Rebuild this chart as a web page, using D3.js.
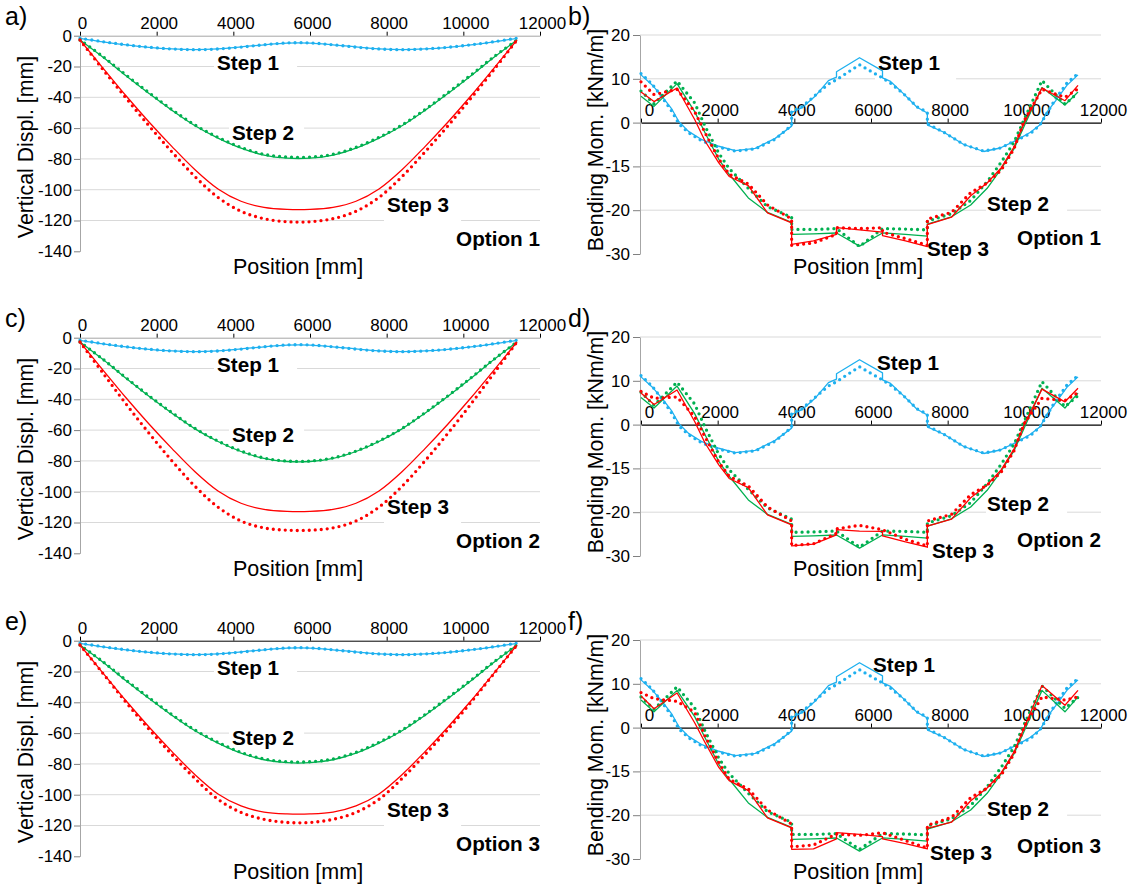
<!DOCTYPE html>
<html>
<head>
<meta charset="utf-8">
<script src="https://cdn.jsdelivr.net/npm/d3@7"></script>
<style>
  body { margin: 0; background: #fff; }
  svg text { font-family: "Liberation Sans", Arial, sans-serif; }
</style>
</head>
<body>
<svg id="chart" width="1128" height="884"></svg>
<script>
// ---------- axis ticks ----------
const xTicks = [0, 2000, 4000, 6000, 8000, 10000, 12000];
const dispTicks = [0, -20, -40, -60, -80, -100, -120, -140];
const momTicks = [20, 10, 0, -10, -20, -30];
const momTickLabels = ["20", "10", "0", "-15", "-20", "-30"];

// ---------- vertical displacement [mm] ----------
const dispX = [0, 600, 1200, 1800, 2400, 3000, 3600, 4200, 4800, 5400, 6000, 6600, 7200, 7800, 8400, 9000, 9600, 10200, 10800, 11400];

const dispBlueS = [-1.7, -4.0, -6.0, -7.6, -8.6, -9.0, -8.5, -7.3, -5.9, -4.8, -4.8, -5.9, -7.3, -8.5, -9.0, -8.6, -7.6, -6.0, -4.0, -1.7];
const dispBlueD = [-1.6, -3.9, -5.9, -7.5, -8.6, -9.1, -8.6, -7.4, -5.9, -4.7, -4.7, -5.9, -7.4, -8.6, -9.1, -8.6, -7.5, -5.9, -3.9, -1.6];

const dispGreen1S = [-2.8, -14.0, -26.0, -37.5, -48.5, -58.5, -66.5, -73.0, -77.5, -79.5, -79.5, -77.5, -73.0, -66.5, -58.5, -48.5, -37.5, -26.0, -14.0, -2.8];
const dispGreen1D = [-2.8, -13.6, -25.5, -37.0, -48.0, -58.0, -66.0, -72.5, -77.0, -78.8, -78.8, -77.0, -72.5, -66.0, -58.0, -48.0, -37.0, -25.5, -13.6, -2.8];
const dispRed1S = [-2.8, -21.0, -39.0, -56.0, -72.0, -87.0, -99.5, -107.5, -111.5, -112.8, -112.8, -111.5, -107.5, -99.5, -87.0, -72.0, -56.0, -39.0, -21.0, -2.8];
const dispRed1D = [-2.8, -22.0, -40.5, -58.5, -75.5, -91.5, -105.0, -114.0, -118.8, -120.8, -120.8, -118.8, -114.0, -105.0, -91.5, -75.5, -58.5, -40.5, -22.0, -2.8];

const dispGreen2S = [-2.8, -14.2, -26.3, -38.0, -49.0, -59.2, -67.4, -73.9, -78.4, -80.4, -80.4, -78.4, -73.9, -67.4, -59.2, -49.0, -38.0, -26.3, -14.2, -2.8];
const dispGreen2D = [-2.8, -14.0, -26.0, -37.7, -48.7, -58.9, -67.1, -73.6, -78.1, -80.1, -80.1, -78.1, -73.6, -67.1, -58.9, -48.7, -37.7, -26.0, -14.0, -2.8];
const dispRed2S = [-2.8, -21.0, -39.0, -56.0, -72.0, -87.0, -99.5, -107.5, -111.5, -112.8, -112.8, -111.5, -107.5, -99.5, -87.0, -72.0, -56.0, -39.0, -21.0, -2.8];
const dispRed2D = [-2.8, -23.0, -43.0, -62.0, -80.0, -96.5, -110.0, -119.0, -123.5, -125.0, -125.0, -123.5, -119.0, -110.0, -96.5, -80.0, -62.0, -43.0, -23.0, -2.8];

const dispGreen3S = [-2.8, -14.0, -26.0, -37.5, -48.5, -58.5, -66.5, -73.0, -77.3, -79.2, -79.2, -77.3, -73.0, -66.5, -58.5, -48.5, -37.5, -26.0, -14.0, -2.8];
const dispGreen3D = [-2.8, -13.7, -25.6, -37.0, -48.0, -58.0, -66.0, -72.5, -76.8, -78.6, -78.6, -76.8, -72.5, -66.0, -58.0, -48.0, -37.0, -25.6, -13.7, -2.8];
const dispRed3S = [-2.8, -21.0, -39.0, -56.0, -72.0, -87.0, -99.5, -107.3, -111.3, -112.5, -112.5, -111.3, -107.3, -99.5, -87.0, -72.0, -56.0, -39.0, -21.0, -2.8];
const dispRed3D = [-2.8, -21.3, -40.0, -57.5, -74.0, -89.5, -103.0, -111.5, -116.0, -118.0, -118.0, -116.0, -111.5, -103.0, -89.5, -74.0, -57.5, -40.0, -21.3, -2.8];

// ---------- bending moment [kNm/m] ----------
// step 1 positions (jumps appear as repeated positions)
const momXB = [0, 290, 550, 810, 990, 1240, 1590, 2030, 2460, 2980, 3500, 3930, 3930, 4200, 4540, 4890, 5100, 5100, 5700,
               6300, 6300, 6510, 6860, 7200, 7470, 7470, 7900, 8420, 8940, 9370, 9800, 10160, 10410, 10600, 10820, 11110, 11400];
const momBlueS = [10.9, 8.6, 6.0, 3.0, 0.2, -2.0, -3.9, -5.4, -6.4, -5.9, -3.6, -0.8, 2.3, 3.4, 6.0, 9.6, 10.4, 11.6, 14.8,
                  11.8, 10.2, 9.4, 6.5, 3.5, 2.2, -0.5, -2.2, -5.0, -6.6, -5.8, -4.0, -2.2, -0.5, 2.5, 5.0, 8.5, 10.9];
const momBlueD = [11.2, 8.8, 5.8, 2.5, -0.3, -2.3, -4.2, -5.6, -6.5, -6.0, -3.8, -0.6, 2.6, 3.6, 6.2, 8.8, 9.8, 9.8, 13.2,
                  10.2, 10.2, 9.0, 6.5, 3.6, 2.4, -0.3, -2.2, -5.0, -6.5, -5.8, -4.0, -2.5, -0.5, 2.3, 5.5, 9.0, 11.2];

// step 2 / step 3 positions
const momXG = [0, 340, 940, 1400, 1670, 2030, 2300, 2800, 3300, 3930, 3930, 4500, 5100, 5100, 5700,
               6300, 6300, 6900, 7470, 7470, 8100, 8600, 9030, 9400, 9730, 10000, 10460, 11060, 11400];

const momGreen1S = [6.0, 3.7, 8.9, 2.5, -2.3, -8.4, -11.8, -17.2, -20.5, -22.8, -25.5, -25.4, -25.2, -25.2, -28.2,
                    -25.2, -25.2, -25.5, -25.9, -23.2, -21.5, -18.8, -15.0, -10.5, -6.0, -0.7, 8.0, 4.0, 7.0];
const momGreen1D = [7.2, 4.3, 9.5, 4.5, -0.8, -7.0, -10.5, -15.0, -19.2, -21.6, -24.4, -24.4, -24.2, -24.2, -28.3,
                    -24.2, -24.2, -24.3, -24.5, -22.5, -20.8, -17.8, -13.5, -9.0, -4.5, 0.8, 9.6, 4.2, 6.8];
const momRed1S = [7.0, 4.8, 7.9, 0.7, -4.2, -9.2, -12.3, -14.4, -20.6, -22.9, -27.8, -27.0, -25.5, -24.0, -24.5,
                  -25.0, -25.8, -27.0, -28.3, -23.3, -21.6, -16.7, -13.8, -10.3, -5.6, 0.0, 7.9, 5.0, 8.5];
const momRed1D = [9.3, 6.4, 7.6, 2.5, -2.3, -8.3, -11.8, -14.0, -18.8, -22.0, -28.0, -27.5, -25.5, -24.0, -24.2,
                  -24.0, -25.0, -26.5, -28.0, -22.0, -20.5, -16.0, -13.8, -10.8, -6.0, 0.5, 7.6, 5.8, 7.7];

const momGreen2S = [6.2, 3.8, 8.8, 2.5, -2.3, -8.4, -11.8, -17.2, -20.5, -22.8, -25.5, -25.4, -25.2, -25.2, -28.2,
                    -25.2, -25.2, -25.5, -25.9, -23.2, -21.5, -18.8, -15.0, -10.5, -6.0, -0.7, 8.3, 3.8, 7.2];
const momGreen2D = [7.4, 4.4, 9.7, 4.7, -0.6, -6.8, -10.3, -14.8, -19.0, -21.6, -24.6, -24.5, -24.3, -24.3, -28.0,
                    -24.3, -24.3, -24.4, -24.6, -22.5, -20.8, -17.8, -13.5, -9.0, -4.5, 0.8, 9.8, 4.1, 6.6];
const momRed2S = [7.2, 4.6, 7.9, 0.7, -4.2, -9.2, -12.3, -14.4, -20.6, -22.9, -27.7, -27.3, -25.2, -24.0, -24.3,
                  -24.4, -25.4, -26.8, -28.0, -23.2, -21.6, -16.7, -13.8, -10.3, -5.6, 0.0, 8.1, 5.2, 8.3];
const momRed2D = [7.6, 6.0, 6.3, 1.8, -2.8, -8.6, -11.8, -14.0, -18.8, -22.0, -27.6, -27.2, -24.8, -23.8, -23.0,
                  -24.0, -24.0, -26.2, -27.7, -22.0, -20.5, -16.0, -13.8, -10.8, -6.0, 0.3, 6.0, 5.5, 7.3];

const momGreen3S = [6.3, 3.6, 8.5, 2.5, -2.3, -8.4, -11.8, -17.2, -20.5, -22.8, -25.5, -25.4, -25.2, -25.2, -28.2,
                    -25.2, -25.2, -25.5, -25.9, -23.2, -21.5, -18.8, -15.0, -10.5, -6.0, -0.7, 8.5, 3.6, 7.0];
const momGreen3D = [7.0, 4.2, 9.3, 4.5, -0.8, -7.0, -10.5, -15.0, -19.2, -21.6, -24.4, -24.4, -24.2, -24.2, -27.8,
                    -24.2, -24.2, -24.3, -24.5, -22.5, -20.8, -17.8, -13.5, -9.0, -4.5, 0.8, 9.5, 4.4, 6.9];
const momRed3S = [7.2, 4.3, 7.9, 1.1, -3.4, -9.1, -12.1, -14.4, -20.6, -22.9, -27.8, -27.7, -25.4, -24.0, -24.4,
                  -24.9, -25.4, -26.5, -27.7, -23.0, -21.6, -16.7, -13.8, -10.3, -5.6, 0.0, 9.6, 5.1, 8.5];
const momRed3D = [8.0, 6.6, 6.0, 3.5, -1.9, -8.0, -11.8, -14.0, -18.8, -22.0, -27.2, -26.8, -24.3, -24.3, -24.6,
                  -24.0, -24.0, -25.8, -27.5, -22.3, -20.5, -16.0, -13.8, -10.8, -6.0, 0.3, 7.0, 6.3, 7.0];

// ---------- layout ----------
const svg = d3.select("#chart");
const rowOff = [0, 302, 605];
const FONT = '"Liberation Sans", Arial, sans-serif';
const cBlue = "#1eb0ef", cGreen = "#00b050", cRed = "#ff0000";
const gridCol = "#d9d9d9";

const dispPanels = [
  { row: 0, letter: "a)", opt: "Option 1", axisCol: "#a6a6a6", green: [dispGreen1S, dispGreen1D], red: [dispRed1S, dispRed1D] },
  { row: 1, letter: "c)", opt: "Option 2", axisCol: "#a6a6a6", green: [dispGreen2S, dispGreen2D], red: [dispRed2S, dispRed2D] },
  { row: 2, letter: "e)", opt: "Option 3", axisCol: "#000000", green: [dispGreen3S, dispGreen3D], red: [dispRed3S, dispRed3D] }
];
const momPanels = [
  { row: 0, letter: "b)", opt: "Option 1", green: [momGreen1S, momGreen1D], red: [momRed1S, momRed1D],
    lab: [[878, 70], [987, 211], [927, 256], 245] },
  { row: 1, letter: "d)", opt: "Option 2", green: [momGreen2S, momGreen2D], red: [momRed2S, momRed2D],
    lab: [[877, 68], [987, 209], [932, 256], 245] },
  { row: 2, letter: "f)", opt: "Option 3", green: [momGreen3S, momGreen3D], red: [momRed3S, momRed3D],
    lab: [[873, 67], [987, 211], [930, 255], 248] }
];

function addLabel(bg, fg, text, x, yb, anchor, padL, padR) {
  const t = fg.append("text")
    .attr("x", x).attr("y", yb)
    .attr("text-anchor", anchor)
    .attr("font-size", 20.7).attr("font-weight", "bold")
    .text(text);
  const b = t.node().getBBox();
  bg.append("rect")
    .attr("x", b.x - padL).attr("y", yb - 19)
    .attr("width", b.width + padL + padR).attr("height", 29)
    .attr("fill", "#fff");
}

function drawSeries(layer, xs, ys, x, y, color, dotted, curve) {
  const line = d3.line()
    .x((d, i) => x(xs[i]))
    .y(d => y(d))
    .curve(curve);
  layer.append("path")
    .datum(ys)
    .attr("d", line)
    .attr("fill", "none")
    .attr("stroke", color)
    .attr("stroke-width", dotted ? 3.3 : 1.3)
    .attr("stroke-dasharray", dotted ? "0 6" : null)
    .attr("stroke-linecap", dotted ? "round" : "butt")
    .attr("stroke-linejoin", "round");
}

function styleAxis(ax) {
  ax.attr("font-family", FONT).attr("font-size", 17);
  ax.selectAll("text").attr("fill", "#000");
}

function drawDisp(p) {
  const off = rowOff[p.row];
  const x = d3.scaleLinear().domain([0, 12000]).range([80, 540]);
  const y = d3.scaleLinear().domain([0, -140]).range([35.7 + off, 251.3 + off]);
  const g = svg.append("g");

  // gridlines
  g.append("g").selectAll("line")
    .data(dispTicks.filter(d => d < 0))
    .join("line")
    .attr("x1", 80).attr("x2", 540)
    .attr("y1", d => y(d)).attr("y2", d => y(d))
    .attr("stroke", gridCol);

  const bg = g.append("g");
  // title box hides most of the bottom gridline
  bg.append("rect").attr("x", 81).attr("y", y(-140) - 2).attr("width", 373).attr("height", 32).attr("fill", "#fff");

  // left axis
  const yAxis = g.append("g")
    .attr("transform", "translate(80,0)")
    .call(d3.axisLeft(y).tickValues(dispTicks).tickFormat(d => String(d)).tickSize(6).tickSizeOuter(0).tickPadding(2));
  styleAxis(yAxis);
  yAxis.select(".domain").attr("stroke", "#a6a6a6");
  yAxis.selectAll(".tick line").attr("stroke", "#808080");

  // top axis at 0
  const xAxis = g.append("g")
    .attr("transform", `translate(0,${y(0)})`)
    .call(d3.axisTop(x).tickValues(xTicks).tickFormat(d => String(d)).tickSize(4).tickSizeOuter(0).tickPadding(3));
  styleAxis(xAxis);
  xAxis.select(".domain").attr("stroke", p.axisCol);
  xAxis.selectAll(".tick text").attr("dx", 2);

  // data
  const lines = g.append("g");
  const curve = d3.curveCatmullRom.alpha(0.5);
  drawSeries(lines, dispX, dispBlueS, x, y, cBlue, false, curve);
  drawSeries(lines, dispX, dispBlueD, x, y, cBlue, true, curve);
  drawSeries(lines, dispX, p.green[0], x, y, cGreen, false, curve);
  drawSeries(lines, dispX, p.green[1], x, y, cGreen, true, curve);
  drawSeries(lines, dispX, p.red[0], x, y, cRed, false, curve);
  drawSeries(lines, dispX, p.red[1], x, y, cRed, true, curve);

  // labels
  const fg = g.append("g");
  addLabel(bg, fg, "Step 1", 217, 70 + off, "start", 3, 18);
  addLabel(bg, fg, "Step 2", 232, 140 + off, "start", 3, 10);
  addLabel(bg, fg, "Step 3", 387, 212 + off, "start", 3, 12);
  addLabel(bg, fg, p.opt, 540, 246 + off, "end", 6, 0);

  fg.append("text").attr("x", 298).attr("y", 274 + off).attr("text-anchor", "middle")
    .attr("font-size", 21.5).text("Position [mm]");
  fg.append("text").attr("transform", `translate(33,${147 + off}) rotate(-90)`).attr("text-anchor", "middle")
    .attr("font-size", 21.3).text("Vertical Displ. [mm]");
  fg.append("text").attr("x", 5).attr("y", 25 + off).attr("font-size", 25).text(p.letter);
}

function drawMom(p) {
  const off = rowOff[p.row];
  const x = d3.scaleLinear().domain([0, 12000]).range([641, 1101]);
  const y = d3.scaleLinear().domain([20, -30]).range([35 + off, 254 + off]);
  const g = svg.append("g");

  g.append("g").selectAll("line")
    .data(momTicks.filter(d => d !== 0))
    .join("line")
    .attr("x1", 640).attr("x2", 1101)
    .attr("y1", d => y(d)).attr("y2", d => y(d))
    .attr("stroke", gridCol);

  const bg = g.append("g");
  bg.append("rect").attr("x", 641).attr("y", y(-30) - 2).attr("width", 372).attr("height", 32).attr("fill", "#fff");

  const yAxis = g.append("g")
    .attr("transform", "translate(640,0)")
    .call(d3.axisLeft(y).tickValues(momTicks).tickFormat((d, i) => momTickLabels[i]).tickSize(7).tickSizeOuter(0).tickPadding(3));
  styleAxis(yAxis);
  yAxis.select(".domain").attr("stroke", "#a6a6a6");
  yAxis.selectAll(".tick line").attr("stroke", "#808080");

  const xAxis = g.append("g")
    .attr("transform", `translate(0,${y(0)})`)
    .call(d3.axisTop(x).tickValues(xTicks).tickFormat(d => String(d)).tickSize(4).tickSizeOuter(0).tickPadding(3));
  styleAxis(xAxis);
  xAxis.select(".domain").attr("stroke", "#000").attr("stroke-width", 1.2);
  xAxis.selectAll(".tick text").attr("dx", 2);
  xAxis.selectAll(".tick").filter(d => d === 0).select("text").attr("dx", 8);

  const lines = g.append("g");
  const curve = d3.curveLinear;
  drawSeries(lines, momXB, momBlueS, x, y, cBlue, false, curve);
  drawSeries(lines, momXB, momBlueD, x, y, cBlue, true, curve);
  drawSeries(lines, momXG, p.green[0], x, y, cGreen, false, curve);
  drawSeries(lines, momXG, p.green[1], x, y, cGreen, true, curve);
  drawSeries(lines, momXG, p.red[0], x, y, cRed, false, curve);
  drawSeries(lines, momXG, p.red[1], x, y, cRed, true, curve);

  const fg = g.append("g");
  addLabel(bg, fg, "Step 1", p.lab[0][0], p.lab[0][1] + off, "start", 3, 16);
  addLabel(bg, fg, "Step 2", p.lab[1][0], p.lab[1][1] + off, "start", 1, 18);
  addLabel(bg, fg, "Step 3", p.lab[2][0], p.lab[2][1] + off, "start", 1, 6);
  addLabel(bg, fg, p.opt, 1101, p.lab[3] + off, "end", 6, 0);

  fg.append("text").attr("x", 858).attr("y", 274 + off).attr("text-anchor", "middle")
    .attr("font-size", 21.5).text("Position [mm]");
  fg.append("text").attr("transform", `translate(603,${140 + off}) rotate(-90)`).attr("text-anchor", "middle")
    .attr("font-size", 21.3).text("Bending Mom. [kNm/m]");
  fg.append("text").attr("x", 568).attr("y", 25 + off).attr("font-size", 25).text(p.letter);
}

dispPanels.forEach(drawDisp);
momPanels.forEach(drawMom);
</script>
</body>
</html>
